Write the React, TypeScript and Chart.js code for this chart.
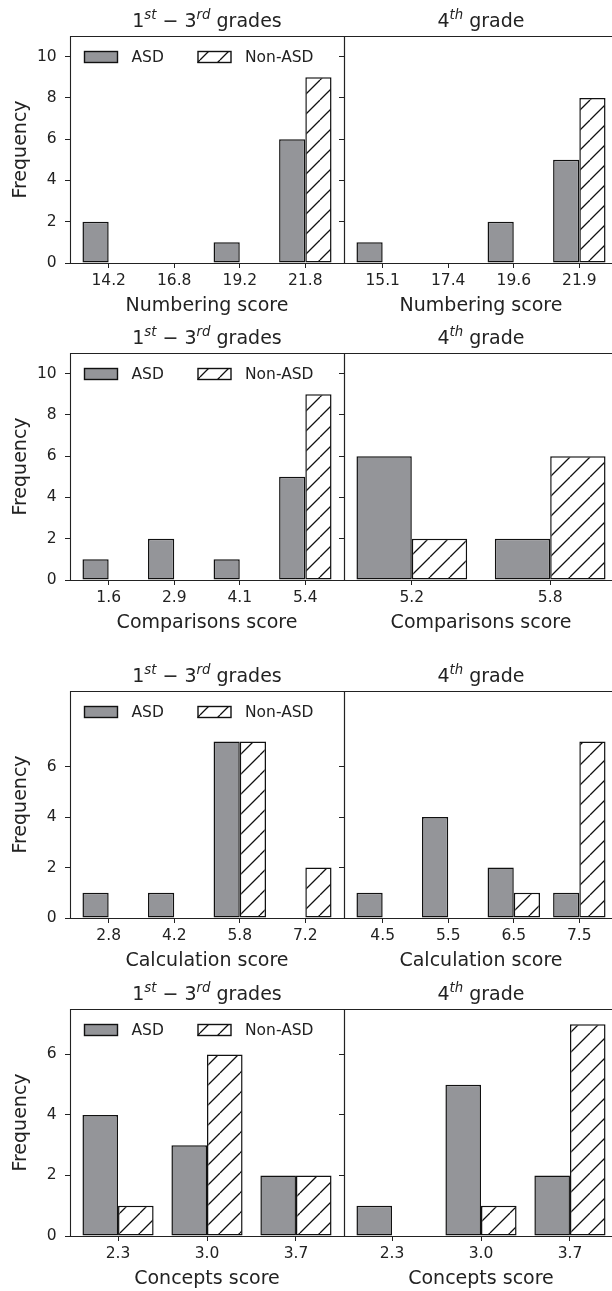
import React, { useEffect, useRef } from 'react';
import { Chart, registerables } from 'chart.js';

Chart.register(...registerables);

// ---------- data ----------
const seriesLabels = ['ASD', 'Non-ASD'];

const numberingTicksLower = ['14.2', '16.8', '19.2', '21.8'];
const numberingAsdLower = [2, 0, 1, 6];
const numberingNonLower = [0, 0, 0, 9];
const numberingTicksFourth = ['15.1', '17.4', '19.6', '21.9'];
const numberingAsdFourth = [1, 0, 2, 5];
const numberingNonFourth = [0, 0, 0, 8];

const comparisonsTicksLower = ['1.6', '2.9', '4.1', '5.4'];
const comparisonsAsdLower = [1, 2, 1, 5];
const comparisonsNonLower = [0, 0, 0, 9];
const comparisonsTicksFourth = ['5.2', '5.8'];
const comparisonsAsdFourth = [6, 2];
const comparisonsNonFourth = [2, 6];

const calculationTicksLower = ['2.8', '4.2', '5.8', '7.2'];
const calculationAsdLower = [1, 1, 7, 0];
const calculationNonLower = [0, 0, 7, 2];
const calculationTicksFourth = ['4.5', '5.5', '6.5', '7.5'];
const calculationAsdFourth = [1, 4, 2, 1];
const calculationNonFourth = [0, 0, 1, 7];

const conceptsTicksLower = ['2.3', '3.0', '3.7'];
const conceptsAsdLower = [4, 3, 2];
const conceptsNonLower = [1, 6, 2];
const conceptsTicksFourth = ['2.3', '3.0', '3.7'];
const conceptsAsdFourth = [1, 5, 2];
const conceptsNonFourth = [0, 1, 7];

const xTitles = ['Numbering score', 'Comparisons score', 'Calculation score', 'Concepts score'];
const yTitle = 'Frequency';
const yTicksTall = [0, 2, 4, 6, 8, 10];
const yTicksShort = [0, 2, 4, 6];
const yMaxByRow = [11, 11, 9, 7.5];

// title pieces: [text, isSuperscript]
const titleLower: [string, boolean][] = [['1', false], ['st', true], [' \u2212 3', false], ['rd', true], [' grades', false]];
const titleFourth: [string, boolean][] = [['4', false], ['th', true], [' grade', false]];

// ---------- style ----------
const FONT = '"DejaVu Sans", "Noto Sans", sans-serif';
const INK = '#222222';
const EDGE = '#111111';
const GRAY = '#949599';
const ROW_TOPS = [36, 353, 691, 1009];
const PLOT_H = 227;
const TITLE_SPACE = 36;
const XAXIS_H = 56;

type PanelCfg = {
  row: number;
  side: 'left' | 'right';
  labels: string[];
  asd: number[];
  non: number[];
  yTicks: number[];
  yMax: number;
  xTitle: string;
  title: [string, boolean][];
};

const panels: PanelCfg[] = [
  { row: 0, side: 'left', labels: numberingTicksLower, asd: numberingAsdLower, non: numberingNonLower, yTicks: yTicksTall, yMax: yMaxByRow[0], xTitle: xTitles[0], title: titleLower },
  { row: 0, side: 'right', labels: numberingTicksFourth, asd: numberingAsdFourth, non: numberingNonFourth, yTicks: yTicksTall, yMax: yMaxByRow[0], xTitle: xTitles[0], title: titleFourth },
  { row: 1, side: 'left', labels: comparisonsTicksLower, asd: comparisonsAsdLower, non: comparisonsNonLower, yTicks: yTicksTall, yMax: yMaxByRow[1], xTitle: xTitles[1], title: titleLower },
  { row: 1, side: 'right', labels: comparisonsTicksFourth, asd: comparisonsAsdFourth, non: comparisonsNonFourth, yTicks: yTicksTall, yMax: yMaxByRow[1], xTitle: xTitles[1], title: titleFourth },
  { row: 2, side: 'left', labels: calculationTicksLower, asd: calculationAsdLower, non: calculationNonLower, yTicks: yTicksShort, yMax: yMaxByRow[2], xTitle: xTitles[2], title: titleLower },
  { row: 2, side: 'right', labels: calculationTicksFourth, asd: calculationAsdFourth, non: calculationNonFourth, yTicks: yTicksShort, yMax: yMaxByRow[2], xTitle: xTitles[2], title: titleFourth },
  { row: 3, side: 'left', labels: conceptsTicksLower, asd: conceptsAsdLower, non: conceptsNonLower, yTicks: yTicksShort, yMax: yMaxByRow[3], xTitle: xTitles[3], title: titleLower },
  { row: 3, side: 'right', labels: conceptsTicksFourth, asd: conceptsAsdFourth, non: conceptsNonFourth, yTicks: yTicksShort, yMax: yMaxByRow[3], xTitle: xTitles[3], title: titleFourth },
];

function makeHatch(): CanvasPattern | string {
  const p = 20;
  const c = document.createElement('canvas');
  c.width = p;
  c.height = p;
  const g = c.getContext('2d');
  if (!g) return '#ffffff';
  g.fillStyle = '#ffffff';
  g.fillRect(0, 0, p, p);
  g.strokeStyle = '#111111';
  g.lineWidth = 1.3;
  g.beginPath();
  for (const o of [-p, 0, p]) {
    g.moveTo(o, p);
    g.lineTo(o + p, 0);
  }
  g.stroke();
  const pat = g.createPattern(c, 'repeat');
  return pat || '#ffffff';
}

function drawTitle(ctx: CanvasRenderingContext2D, parts: [string, boolean][], cx: number, baseline: number) {
  const main = `19px ${FONT}`;
  const sup = `italic 13.3px ${FONT}`;
  let total = 0;
  const widths = parts.map(([t, s]) => {
    ctx.font = s ? sup : main;
    const w = ctx.measureText(t).width;
    total += w;
    return w;
  });
  let x = cx - total / 2;
  ctx.fillStyle = INK;
  ctx.textAlign = 'left';
  ctx.textBaseline = 'alphabetic';
  parts.forEach(([t, s], i) => {
    ctx.font = s ? sup : main;
    ctx.fillText(t, x, s ? baseline - 7.2 : baseline);
    x += widths[i];
  });
}

function Panel({ cfg }: { cfg: PanelCfg }) {
  const ref = useRef<HTMLCanvasElement | null>(null);
  const isLeft = cfg.side === 'left';
  const canvasLeft = isLeft ? 0 : 330;
  const canvasWidth = isLeft ? 350 : 290;
  const canvasTop = ROW_TOPS[cfg.row] - TITLE_SPACE;
  const canvasHeight = TITLE_SPACE + PLOT_H + XAXIS_H;

  useEffect(() => {
    const canvas = ref.current;
    if (!canvas) return;
    const hatch = makeHatch();
    const n = cfg.labels.length;
    const half = 0.4;
    const span = n - 1 + 2 * half;
    const xMin = -half - 0.05 * span;
    const xMax = n - 1 + half + 0.05 * span;

    const deco = {
      id: 'panelDeco',
      afterDatasetsDraw(chart: any) {
        const { ctx, chartArea } = chart;
        const { left, right, top, bottom } = chartArea;
        ctx.save();
        ctx.strokeStyle = INK;
        ctx.lineWidth = 1.1;
        ctx.beginPath();
        const L = Math.round(left) + 0.5;
        const R = Math.round(right) + 0.5;
        const T = Math.round(top) + 0.5;
        const B = Math.round(bottom) + 0.5;
        ctx.rect(L, T, R - L, B - T);
        ctx.stroke();
        ctx.restore();
      },
      afterDraw(chart: any) {
        const { ctx, chartArea } = chart;
        const { left, right, top } = chartArea;
        ctx.save();
        drawTitle(ctx, cfg.title, (left + right) / 2, top - 9.5);
        if (isLeft) {
          const fills = [GRAY, hatch];
          const xs = [left + 14, left + 127.5];
          const py = top + 15;
          chart.data.datasets.forEach((ds: any, i: number) => {
            ctx.fillStyle = fills[i];
            ctx.fillRect(xs[i], py, 34, 12);
            ctx.strokeStyle = EDGE;
            ctx.lineWidth = 1.4;
            ctx.strokeRect(xs[i] + 0.5, py + 0.5, 33, 11);
            ctx.fillStyle = INK;
            ctx.font = `15.5px ${FONT}`;
            ctx.textAlign = 'left';
            ctx.textBaseline = 'middle';
            ctx.fillText(ds.label, xs[i] + 34 + 13.5, py + 6.5);
          });
        }
        ctx.restore();
      },
    };

    const chart = new Chart(canvas, {
      type: 'bar',
      data: {
        datasets: [
          {
            label: seriesLabels[0],
            data: cfg.asd.map((v, i) => ({ x: i, y: v })),
            backgroundColor: GRAY,
            borderColor: EDGE,
            borderWidth: 1.5,
            borderSkipped: false,
            categoryPercentage: 0.8,
            barPercentage: 1,
          },
          {
            label: seriesLabels[1],
            data: cfg.non.map((v, i) => ({ x: i, y: v })),
            backgroundColor: hatch as any,
            borderColor: EDGE,
            borderWidth: 1.5,
            borderSkipped: false,
            categoryPercentage: 0.8,
            barPercentage: 1,
          },
        ],
      },
      options: {
        responsive: false,
        animation: false,
        devicePixelRatio: 1,
        events: [],
        layout: { padding: { top: TITLE_SPACE, left: 0, right: isLeft ? 6 : 2, bottom: 0 } },
        plugins: { legend: { display: false }, tooltip: { enabled: false }, title: { display: false } },
        scales: {
          x: {
            type: 'linear',
            min: xMin,
            max: xMax,
            bounds: 'data',
            offset: false,
            afterBuildTicks: (s: any) => {
              s.ticks = cfg.labels.map((_, i) => ({ value: i }));
            },
            afterFit: (s: any) => {
              s.height = XAXIS_H;
            },
            grid: { display: true, offset: false, drawOnChartArea: false, drawTicks: true, tickLength: 5, color: INK, lineWidth: 1 },
            border: { display: false },
            ticks: {
              autoSkip: false,
              maxRotation: 0,
              minRotation: 0,
              padding: 3.9,
              color: INK,
              font: { family: FONT, size: 15.5 },
              callback: (_v: any, i: number) => cfg.labels[i],
            },
            title: { display: true, text: cfg.xTitle, color: INK, font: { family: FONT, size: 19 }, padding: { top: 0, bottom: 1.5 } },
          },
          y: {
            type: 'linear',
            min: 0,
            max: cfg.yMax,
            bounds: 'data',
            afterBuildTicks: (s: any) => {
              s.ticks = cfg.yTicks.map((v) => ({ value: v }));
            },
            afterFit: (s: any) => {
              s.width = isLeft ? 70 : 14;
            },
            grid: { display: true, drawOnChartArea: false, drawTicks: true, tickLength: 5, color: INK, lineWidth: 1 },
            border: { display: false },
            ticks: { display: isLeft, padding: 8.3, color: INK, font: { family: FONT, size: 15.5 } },
            title: { display: isLeft, text: yTitle, color: INK, font: { family: FONT, size: 19 }, padding: { top: 9.6, bottom: 0 } },
          },
        },
      },
      plugins: [deco],
    } as any);
    return () => chart.destroy();
  }, [cfg]);

  return (
    <canvas
      ref={ref}
      width={canvasWidth}
      height={canvasHeight}
      style={{ position: 'absolute', left: canvasLeft, top: canvasTop, width: canvasWidth, height: canvasHeight }}
    />
  );
}

export default function App() {
  return (
    <div style={{ position: 'absolute', left: 0, top: 0, width: 612, height: 1291, overflow: 'hidden', background: '#ffffff' }}>
      {panels.map((p, i) => (
        <Panel key={i} cfg={p} />
      ))}
    </div>
  );
}
